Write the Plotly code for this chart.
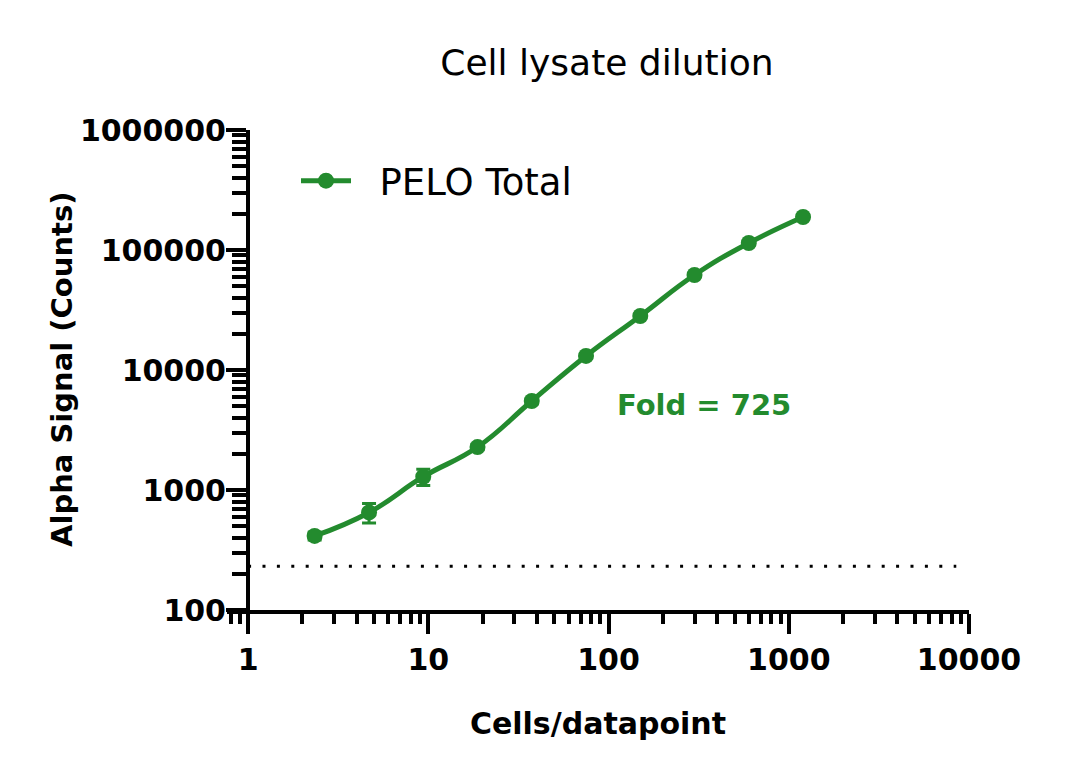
import plotly.graph_objs as go

# PELO Total, 2-fold lysate dilution
cells = [2.34, 4.69, 9.375, 18.75, 37.5, 75, 150, 300, 600, 1200]
signal = [414, 650, 1290, 2280, 5520, 13100, 28200, 61900, 114300, 188400]
signal_sd = [30, 120, 200, 120, 300, 500, 900, 2000, 4000, 5000]

bkg_x = [1, 8500]
bkg_level = [232, 232]

x_ticks = [1, 10, 100, 1000, 10000]
y_ticks = [100, 1000, 10000, 100000, 1000000]

green = '#238B2E'
font_name = 'DejaVu Sans'

fig = go.Figure()

fig.add_trace(go.Scatter(x=bkg_x,
                         y=bkg_level,
                         mode='lines',
                         line=dict(color='black', width=3, dash='3px,11.4px'),
                         showlegend=False,
                         hoverinfo='skip'))

fig.add_trace(go.Scatter(x=cells,
                         y=signal,
                         name='&nbsp;&nbsp;PELO Total',
                         mode='lines+markers',
                         line=dict(color=green, width=5, shape='spline', smoothing=1.3),
                         marker=dict(color=green, size=16),
                         error_y=dict(type='data', array=signal_sd, color=green, thickness=3, width=7)))

# annotation positions on log axes are given in log10 units
fig.add_annotation(x=2.53, y=3.71, xref='x', yref='y',
                   text='<b>Fold = 725</b>', showarrow=False,
                   font=dict(family=font_name, size=29, color=green))

# y axis title placed by hand so it sits close to the tick labels
fig.add_annotation(x=0, y=0.5, xref='paper', yref='paper',
                   xanchor='center', yanchor='middle', xshift=-165,
                   text='<b>Alpha Signal (Counts)</b>', textangle=-90, showarrow=False,
                   font=dict(family=font_name, size=29, color='black'))

fig.update_layout(width=1080, height=782,
                  margin=dict(l=219, r=119, t=122, b=180),
                  plot_bgcolor='white',
                  paper_bgcolor='white',
                  font=dict(family=font_name, color='black'),
                  title=dict(text='Cell lysate dilution', xref='paper', x=0.512, xanchor='center',
                             y=0.93, yanchor='middle',
                             font=dict(family=font_name, size=36, color='black')),
                  legend=dict(x=0.093, y=0.958, xanchor='left', yanchor='top',
                              font=dict(family=font_name, size=37),
                              bgcolor='rgba(0,0,0,0)', itemwidth=50))

fig.update_xaxes(type='log',
                 range=[-0.117, 4],
                 automargin=False,
                 tickvals=x_ticks,
                 ticktext=[str(v) for v in x_ticks],
                 ticks='outside', ticklen=20, tickwidth=4, tickcolor='black',
                 tickfont=dict(family=font_name, size=30, color='black', weight='bold'),
                 showline=True, linewidth=4, linecolor='black',
                 showgrid=False, zeroline=False,
                 minor=dict(ticks='outside', ticklen=10, tickwidth=4, tickcolor='black',
                            dtick='D1', showgrid=False),
                 title=dict(text='<b>Cells/datapoint</b>', standoff=38,
                            font=dict(family=font_name, size=30, color='black')))

fig.update_yaxes(type='log',
                 range=[2, 6],
                 automargin=False,
                 anchor='free', position=21 / 742,
                 tickvals=y_ticks,
                 ticktext=[str(v) for v in y_ticks],
                 ticklabelstandoff=-6,
                 ticks='outside', ticklen=20, tickwidth=4, tickcolor='black',
                 tickfont=dict(family=font_name, size=30, color='black', weight='bold'),
                 showline=True, linewidth=4, linecolor='black',
                 showgrid=False, zeroline=False,
                 minor=dict(ticks='outside', ticklen=14, tickwidth=4, tickcolor='black',
                            dtick='D1', showgrid=False))

fig.write_html("out.html")
